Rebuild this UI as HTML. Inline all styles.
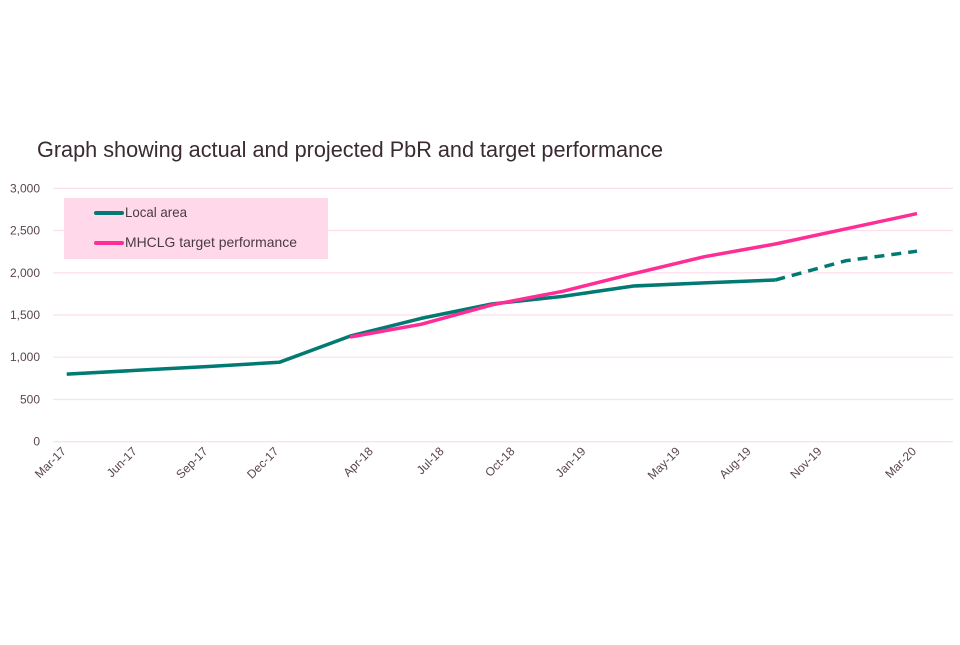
<!DOCTYPE html>
<html><head><meta charset="utf-8"><style>
body{margin:0;background:#fff;width:960px;height:640px;overflow:hidden;font-family:"Liberation Sans",sans-serif}
</style></head><body>
<svg width="960" height="640" id="c" style="font-family:'Liberation Sans',sans-serif">
<text x="37" y="157" font-size="22" fill="#3a2a32" textLength="626" lengthAdjust="spacingAndGlyphs">Graph showing actual and projected PbR and target performance</text>
<g id="grid"></g><g id="yl"></g><g id="xl"></g><g id="lines"></g>
<g>
<rect x="64" y="198" width="264" height="61" fill="#ffd9ea"/>
<line x1="96" y1="213" x2="122" y2="213" stroke="#007a73" stroke-width="4" stroke-linecap="round"/>
<text x="125" y="217" font-size="14" fill="#4a3a42" textLength="62" lengthAdjust="spacingAndGlyphs">Local area</text>
<line x1="96" y1="243" x2="122" y2="243" stroke="#ff2d96" stroke-width="4" stroke-linecap="round"/>
<text x="125" y="247" font-size="14" fill="#4a3a42" textLength="172" lengthAdjust="spacingAndGlyphs">MHCLG target performance</text>
</g>
</svg>
<script>
const yTicks=[0,500,1000,1500,2000,2500,3000];
const xLabels=["Mar-17","Jun-17","Sep-17","Dec-17","Apr-18","Jul-18","Oct-18","Jan-19","May-19","Aug-19","Nov-19","Mar-20"];
const xLabelMonths=[0,3,6,9,13,16,19,22,26,29,32,36];
const localMonths=[0,3,6,9,12,15,18,21,24,27,30];
const localValues=[800,845,890,940,1250,1460,1630,1720,1843,1880,1914];
const projMonths=[30,33,36];
const projValues=[1914,2143,2255];
const targetMonths=[12,15,18,21,24,27,30,33,36];
const targetValues=[1240,1390,1620,1780,1990,2190,2340,2520,2700];
const NS="http://www.w3.org/2000/svg";
const x=m=>66.7+m*(917-66.7)/36;
const y=v=>441.7-v*253.4/3000;
function el(t,a,p){const e=document.createElementNS(NS,t);for(const k in a)e.setAttribute(k,a[k]);document.getElementById(p).appendChild(e);return e;}
yTicks.forEach(v=>{
 const g=el('line',{x1:53,x2:953,y1:y(v),y2:y(v),stroke:'#fde0ee','stroke-width':1.3},'grid');
 
 
 const t=el('text',{x:40,y:y(v)+4,'text-anchor':'end','font-size':12,fill:'#5a4550'},'yl');
 t.textContent=v.toLocaleString('en-US');
 
 
});
xLabels.forEach((l,i)=>{
 const px=x(xLabelMonths[i]),py=452;
 const t=el('text',{x:px,y:py,'text-anchor':'end','font-size':12,fill:'#5a4550',transform:`rotate(-45 ${px} ${py})`},'xl');
 t.textContent=l;
 
 
});
function path(ms,vs){return ms.map((m,i)=>(i?'L':'M')+x(m).toFixed(1)+' '+y(vs[i]).toFixed(1)).join(' ');}
const a=el('path',{d:path(localMonths,localValues),fill:'none',stroke:'#007a73','stroke-width':3.5,'stroke-linejoin':'round'},'lines');


const b=el('path',{d:path(projMonths,projValues),fill:'none',stroke:'#007a73','stroke-width':3.5,'stroke-dasharray':'10 7'},'lines');


const c=el('path',{d:path(targetMonths,targetValues),fill:'none',stroke:'#ff2d96','stroke-width':3.5,'stroke-linejoin':'round'},'lines');


</script>
</body></html>
